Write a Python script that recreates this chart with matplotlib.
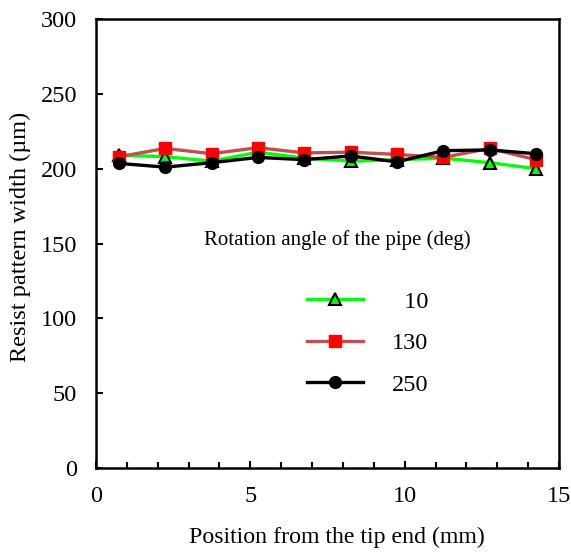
import matplotlib.pyplot as plt
from matplotlib.ticker import MultipleLocator

# positions along the pipe (mm)
position = [0.75, 2.25, 3.75, 5.25, 6.75, 8.25, 9.75, 11.25, 12.75, 14.25]

# resist pattern width (um) for each rotation angle
width_10 = [209, 208, 205, 211, 207, 205, 206, 207, 204, 200]
width_130 = [208, 213.5, 210, 214, 210.5, 211, 209.5, 207.5, 213.5, 206]
width_250 = [203.5, 201, 204, 207.5, 206, 208.5, 204.5, 212, 212.5, 210]
labels = ['  10', '130', '250']

plt.rcParams['font.family'] = ['Liberation Serif', 'DejaVu Serif']
FS = 17.5

fig = plt.figure(figsize=(5.71, 5.56), dpi=100)
ax = fig.add_axes([0.168, 0.158, 0.811, 0.808])

ax.plot(position, width_10, color='#00ff00', lw=2.4, marker='^', ms=9,
        mfc='#00ff00', mec='black', mew=1.5, label=labels[0])
ax.plot(position, width_130, color='#c0504d', lw=2.4, marker='s', ms=9,
        mfc='#ff0000', mec='#ff0000', label=labels[1])
ax.plot(position, width_250, color='black', lw=2.4, marker='o', ms=8.5,
        mfc='black', mec='black', label=labels[2])

ax.set_xlim(0, 15)
ax.set_ylim(0, 300)
ax.xaxis.set_major_locator(MultipleLocator(5))
ax.xaxis.set_minor_locator(MultipleLocator(1))
ax.yaxis.set_major_locator(MultipleLocator(50))

ax.tick_params(axis='both', which='both', direction='in', labelsize=FS,
               width=1.5)
ax.tick_params(axis='x', which='major', length=5, pad=13)
ax.tick_params(axis='x', which='minor', length=4)
ax.tick_params(axis='y', which='major', length=5, pad=13.5)

for sp in ax.spines.values():
    sp.set_linewidth(1.8)

ax.set_xlabel('Position from the tip end (mm)', fontsize=17.2, labelpad=14)
ax.set_ylabel('Resist pattern width (\u00b5m)', fontsize=FS, labelpad=7)
ax.xaxis.label.set_x(0.52)
ax.yaxis.label.set_y(0.515)

# legend title drawn separately, it sits off-centre from the entries
ax.text(0.521, 0.508, 'Rotation angle of the pipe (deg)', fontsize=15,
        ha='center', va='center', transform=ax.transAxes)
ax.legend(frameon=False, fontsize=FS, loc='center left',
          bbox_to_anchor=(0.455, 0.278), borderaxespad=0, borderpad=0,
          labelspacing=0.8, handlelength=2.3, handletextpad=1.2)

fig.savefig('out.png', dpi=100)
